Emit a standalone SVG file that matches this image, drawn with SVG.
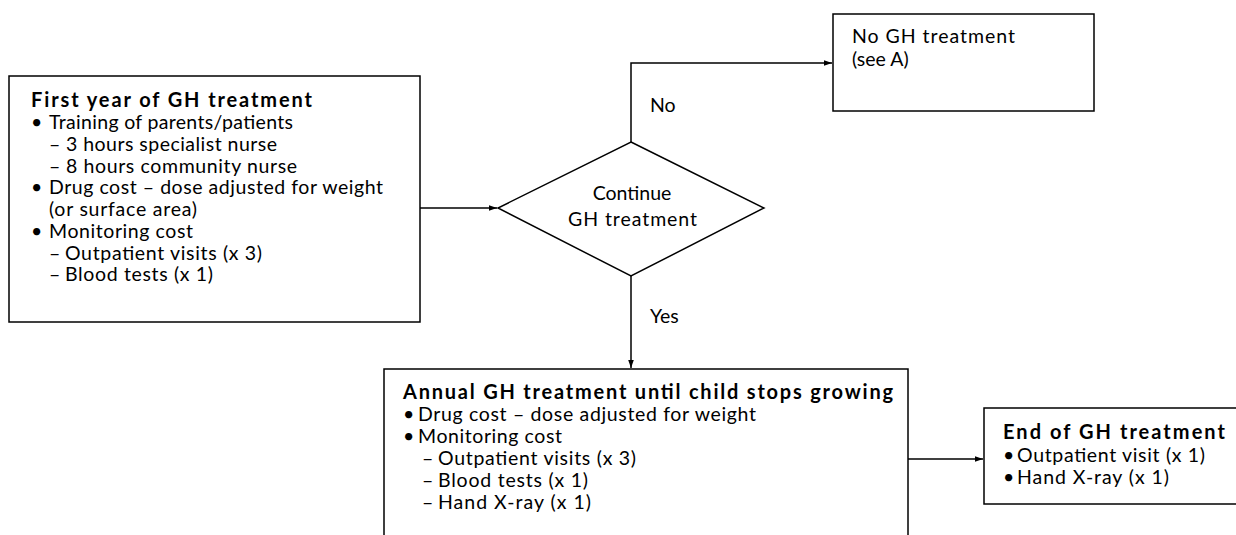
<svg xmlns="http://www.w3.org/2000/svg" width="1236" height="535" viewBox="0 0 1236 535">
<defs>
<marker id="arr" viewBox="0 0 10 10" refX="10" refY="5" markerWidth="11" markerHeight="8" markerUnits="userSpaceOnUse" orient="auto">
<path d="M0,1.5 L10,5 L0,8.5 z" fill="#000"/>
</marker>
<style>
.box{fill:#fff;stroke:#000;stroke-width:1.5}
.ln{fill:none;stroke:#000;stroke-width:1.5}
text{font-family:Lato,"Open Sans","Liberation Sans",sans-serif;font-size:19.5px;fill:#000}
.b{font-weight:bold;font-size:20px}
.m{text-anchor:middle}
</style>
</defs>
<rect width="1236" height="535" fill="#fff"/>
<g id="connectors">
<path class="ln" d="M420,208 H497" marker-end="url(#arr)"/>
<path class="ln" d="M631,142 V63 H832" marker-end="url(#arr)"/>
<path class="ln" d="M631,276 V368" marker-end="url(#arr)"/>
<path class="ln" d="M908,459 H983" marker-end="url(#arr)"/>
<text x="650" y="112">No</text>
<text x="650" y="323">Yes</text>
</g>
<g id="first-year">
<rect class="box" x="9" y="76" width="411" height="246"/>
<text x="31" y="107" class="b" textLength="281">First year of GH treatment</text>
<text x="31" y="129">•</text><text x="49" y="129" textLength="244">Training of parents/patients</text>
<text x="49" y="150.5">–</text><text x="66" y="150.5" textLength="211">3 hours specialist nurse</text>
<text x="49" y="172.5">–</text><text x="66" y="172.5" textLength="231">8 hours community nurse</text>
<text x="31" y="194">•</text><text x="49" y="194" textLength="334">Drug cost – dose adjusted for weight</text>
<text x="49" y="216" textLength="148">(or surface area)</text>
<text x="31" y="238">•</text><text x="49" y="238" textLength="144">Monitoring cost</text>
<text x="49" y="259.5">–</text><text x="65" y="259.5" textLength="197">Outpatient visits (x 3)</text>
<text x="49" y="281">–</text><text x="65" y="281" textLength="148">Blood tests (x 1)</text>
</g>
<g id="decision">
<polygon class="box" points="631,142 764,208 631,276 498,208"/>
<text x="632" y="200" class="m">Continue</text>
<text x="632.5" y="226" class="m" textLength="129">GH treatment</text>
</g>
<g id="no-treatment">
<rect class="box" x="833" y="14" width="261" height="97"/>
<text x="852" y="43" textLength="163">No GH treatment</text>
<text x="852" y="66">(see A)</text>
</g>
<g id="annual">
<rect class="box" x="384" y="369" width="524" height="180"/>
<text x="403" y="399" class="b" textLength="490">Annual GH treatment until child stops growing</text>
<text x="403" y="421">•</text><text x="418" y="421" textLength="338">Drug cost – dose adjusted for weight</text>
<text x="403" y="443">•</text><text x="418" y="443" textLength="144">Monitoring cost</text>
<text x="422" y="465">–</text><text x="438" y="465" textLength="198">Outpatient visits (x 3)</text>
<text x="422" y="487">–</text><text x="438" y="487" textLength="150">Blood tests (x 1)</text>
<text x="422" y="509">–</text><text x="438" y="509" textLength="153">Hand X-ray (x 1)</text>
</g>
<g id="end">
<rect class="box" x="984" y="408" width="270" height="96"/>
<text x="1003" y="439" class="b" textLength="222">End of GH treatment</text>
<text x="1003" y="462">•</text><text x="1017" y="462" textLength="188">Outpatient visit (x 1)</text>
<text x="1003" y="484">•</text><text x="1017" y="484" textLength="152">Hand X-ray (x 1)</text>
</g>
</svg>
